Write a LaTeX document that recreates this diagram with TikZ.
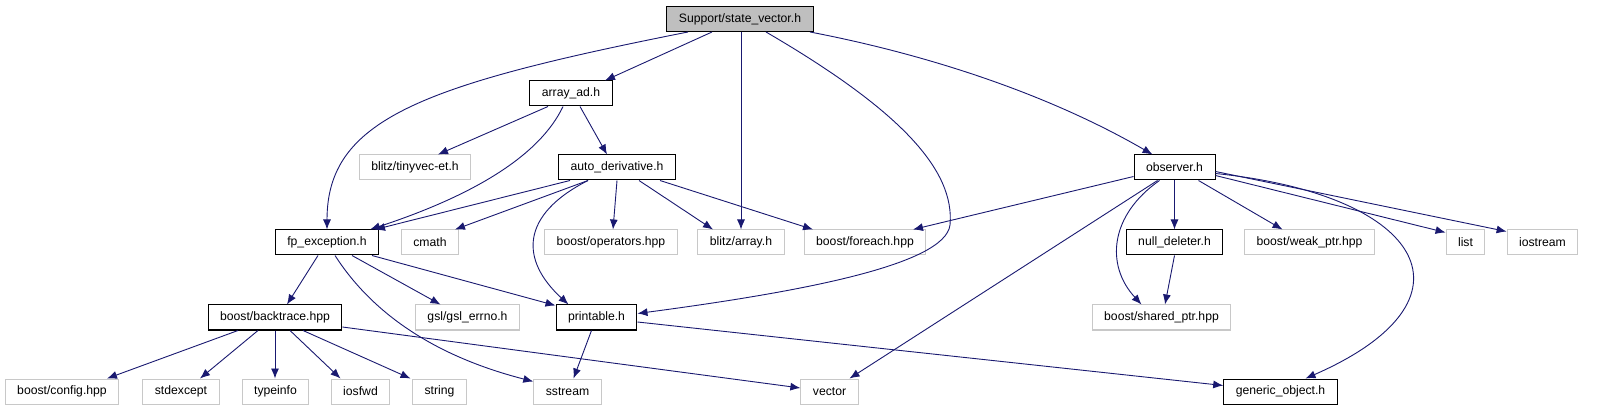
\documentclass[tikz,border=0pt]{standalone}
\usepackage{fontspec}
\setmainfont{Liberation Sans}
\usepackage{xcolor}
\usetikzlibrary{arrows.meta}
\definecolor{edgeblue}{HTML}{191970}
\definecolor{rootgray}{HTML}{BFBFBF}
\definecolor{sysgray}{HTML}{C8C8C8}

\begin{document}
\begin{tikzpicture}[x=1pt, y=1pt,
  hdr/.style={draw=black, line width=1pt, fill=white, minimum height=25pt,
    inner xsep=12pt, inner ysep=0pt, font=\fontsize{12.2}{14}\selectfont},
  sys/.style={hdr, draw=sysgray},
  root/.style={hdr, fill=rootgray},
  dep/.style={draw=edgeblue, line width=0.9pt, -{Latex[length=10pt,width=8pt]}}]
  \useasboundingbox (0,0) rectangle (1605,-411);
  % first two rows
  \node[root] (sv) at (740,-19) {Support/state\_vector.h};
  \node[hdr] (arrayad) at (571,-93.5) {array\_ad.h};
  \node[sys] (tinyvec) at (415,-167.5) {blitz/tinyvec-et.h};
  \node[hdr] (autoderiv) at (617,-167.5) {auto\_derivative.h};
  \node[hdr] (observer) at (1174.5,-167.5) {observer.h};
  % third row
  \node[hdr] (fpexc) at (327,-242.5) {fp\_exception.h};
  \node[sys] (cmath) at (430,-242.5) {cmath};
  \node[sys] (boostops) at (611,-242.5) {boost/operators.hpp};
  \node[sys] (blitzarr) at (741,-242.5) {blitz/array.h};
  \node[sys] (foreach) at (865,-242.5) {boost/foreach.hpp};
  \node[hdr] (nulldel) at (1174.5,-242.5) {null\_deleter.h};
  \node[sys] (weakptr) at (1309.5,-242.5) {boost/weak\_ptr.hpp};
  \node[sys] (list) at (1465.5,-242.5) {list};
  \node[sys] (iostream) at (1542.5,-242.5) {iostream};
  % fourth row
  \node[hdr] (backtrace) at (275,-317.5) {boost/backtrace.hpp};
  \node[sys] (gslerrno) at (467.5,-317.5) {gsl/gsl\_errno.h};
  \node[hdr] (printable) at (596.5,-317.5) {printable.h};
  \node[sys] (sharedptr) at (1161.5,-317.5) {boost/shared\_ptr.hpp};
  % bottom row
  \node[sys] (bconfig) at (62,-391.5) {boost/config.hpp};
  \node[sys] (stdexcept) at (181,-391.5) {stdexcept};
  \node[sys] (typeinfo) at (275.5,-391.5) {typeinfo};
  \node[sys] (iosfwd) at (360.5,-391.5) {iosfwd};
  \node[sys] (string) at (439.5,-391.5) {string};
  \node[sys] (sstream) at (567.5,-391.5) {sstream};
  \node[sys] (vector) at (829.5,-391.5) {vector};
  \node[hdr] (genobj) at (1280.5,-391.5) {generic\_object.h};

  % Support/state_vector.h
  \draw[dep] ([xshift=-52]sv.south) .. controls (420,-85) and (327,-120) .. (fpexc.north);
  \draw[dep] ([xshift=-28]sv.south) -- ([xshift=34]arrayad.north);
  \draw[dep] ([xshift=1]sv.south) -- (blitzarr.north);
  \draw[dep] ([xshift=26]sv.south) .. controls (900,-110) and (955,-170) .. (950,-225)
    .. controls (945,-265) and (800,-292) .. ([yshift=4]printable.east);
  \draw[dep] ([xshift=70]sv.south) .. controls (930,-55) and (1050,-95) .. ([xshift=-22]observer.north);
  % array_ad.h
  \draw[dep] ([xshift=-23]arrayad.south) -- ([xshift=23]tinyvec.north);
  \draw[dep] ([xshift=-8]arrayad.south) .. controls (540,-155) and (475,-195) .. ([xshift=43]fpexc.north);
  \draw[dep] ([xshift=9]arrayad.south) -- ([xshift=-10]autoderiv.north);
  % auto_derivative.h
  \draw[dep] ([xshift=-47]autoderiv.south) -- ([xshift=48]fpexc.north);
  \draw[dep] ([xshift=-29]autoderiv.south) -- ([xshift=25]cmath.north);
  \draw[dep] ([xshift=-29]autoderiv.south) .. controls (520,-215) and (520,-260) .. ([xshift=-28]printable.north);
  \draw[dep] (autoderiv.south) -- ([xshift=2]boostops.north);
  \draw[dep] ([xshift=22]autoderiv.south) -- ([xshift=-28]blitzarr.north);
  \draw[dep] ([xshift=43]autoderiv.south) -- ([xshift=-52]foreach.north);
  % observer.h
  \draw[dep] ([yshift=-9]observer.west) -- ([xshift=48]foreach.north);
  \draw[dep] ([xshift=-17]observer.south) -- ([xshift=20]vector.north);
  \draw[dep] ([xshift=-15]observer.south) .. controls (1110,-215) and (1105,-265) .. ([xshift=-20]sharedptr.north);
  \draw[dep] (observer.south) -- (nulldel.north);
  \draw[dep] ([xshift=24]observer.south) -- ([xshift=-27]weakptr.north);
  \draw[dep] ([yshift=-6]observer.east) .. controls (1425,-195) and (1485,-300) .. ([xshift=25]genobj.north);
  \draw[dep] ([yshift=-8]observer.east) -- ([yshift=-3]list.north west);
  \draw[dep] ([yshift=-4]observer.east) -- ([yshift=-2]iostream.north west);
  \draw[dep] (nulldel.south) -- ([xshift=3.5]sharedptr.north);
  % fp_exception.h
  \draw[dep] ([xshift=-9]fpexc.south) -- ([xshift=12]backtrace.north);
  \draw[dep] ([xshift=8]fpexc.south) .. controls (370,-310) and (430,-355) .. ([yshift=-3]sstream.north west);
  \draw[dep] ([xshift=25]fpexc.south) -- ([xshift=-27]gslerrno.north);
  \draw[dep] ([xshift=45]fpexc.south) -- ([yshift=-1]printable.north west);
  % printable.h
  \draw[dep] ([xshift=-5]printable.south) -- ([xshift=6]sstream.north);
  \draw[dep] ([yshift=-4.5]printable.east) -- ([yshift=6]genobj.west);
  % boost/backtrace.hpp
  \draw[dep] ([xshift=-37]backtrace.south) -- ([xshift=45]bconfig.north);
  \draw[dep] ([xshift=-17]backtrace.south) -- ([xshift=19]stdexcept.north);
  \draw[dep] (backtrace.south) -- ([xshift=-0.5]typeinfo.north);
  \draw[dep] ([xshift=15]backtrace.south) -- ([xshift=-20]iosfwd.north);
  \draw[dep] ([xshift=28]backtrace.south) -- ([xshift=-29]string.north);
  \draw[dep] ([yshift=-9.5]backtrace.east) -- ([yshift=3.5]vector.west);
\end{tikzpicture}
\end{document}
